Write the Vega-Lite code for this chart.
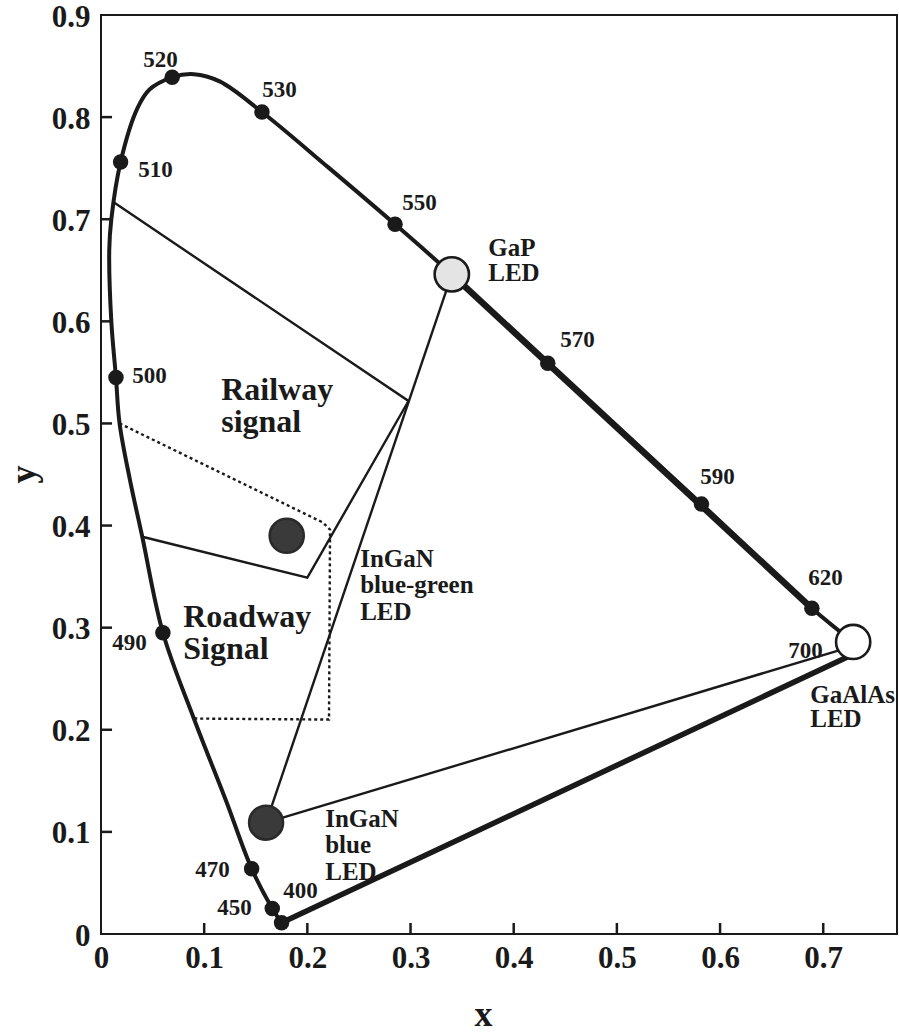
{
  "$schema": "https://vega.github.io/schema/vega-lite/v6.json",
  "width": 796,
  "height": 919,
  "autosize": "none",
  "padding": {"left": 101, "top": 15, "right": 2, "bottom": 100},
  "background": "white",
  "config": {
    "view": {"stroke": "#1a1a1a", "strokeWidth": 2},
    "font": "Liberation Serif",
    "axis": {
      "domain": false,
      "grid": false,
      "ticks": false,
      "labelFont": "Liberation Serif",
      "labelFontSize": 31,
      "labelFontWeight": "bold",
      "labelColor": "#1a1a1a",
      "labelFlush": false,
      "titleFont": "Liberation Serif",
      "titleFontSize": 36,
      "titleFontWeight": "bold",
      "titleColor": "#1a1a1a"
    }
  },
  "datasets": {
    "locus": [
      {"i": 1, "x": 0.175, "y": 0.011},
      {"i": 2, "x": 0.166, "y": 0.025},
      {"i": 3, "x": 0.146, "y": 0.064},
      {"i": 4, "x": 0.121, "y": 0.131},
      {"i": 5, "x": 0.090, "y": 0.211},
      {"i": 6, "x": 0.060, "y": 0.295},
      {"i": 7, "x": 0.040, "y": 0.389},
      {"i": 8, "x": 0.028, "y": 0.445},
      {"i": 9, "x": 0.018, "y": 0.500},
      {"i": 10, "x": 0.0145, "y": 0.545},
      {"i": 11, "x": 0.010, "y": 0.600},
      {"i": 12, "x": 0.008, "y": 0.670},
      {"i": 13, "x": 0.010, "y": 0.700},
      {"i": 14, "x": 0.019, "y": 0.756},
      {"i": 15, "x": 0.035, "y": 0.808},
      {"i": 16, "x": 0.047, "y": 0.827},
      {"i": 17, "x": 0.069, "y": 0.839},
      {"i": 18, "x": 0.090, "y": 0.842},
      {"i": 19, "x": 0.115, "y": 0.835},
      {"i": 20, "x": 0.156, "y": 0.805},
      {"i": 21, "x": 0.220, "y": 0.751},
      {"i": 22, "x": 0.285, "y": 0.695},
      {"i": 23, "x": 0.340, "y": 0.646},
      {"i": 24, "x": 0.433, "y": 0.559},
      {"i": 25, "x": 0.582, "y": 0.421},
      {"i": 26, "x": 0.689, "y": 0.319},
      {"i": 27, "x": 0.729, "y": 0.286}
    ],
    "ticks": [
      {"seg": "x0.1", "i": 1, "x": 0.1, "y": 0}, {"seg": "x0.1", "i": 2, "x": 0.1, "y": 0.0108},
      {"seg": "x0.2", "i": 1, "x": 0.2, "y": 0}, {"seg": "x0.2", "i": 2, "x": 0.2, "y": 0.0108},
      {"seg": "x0.3", "i": 1, "x": 0.3, "y": 0}, {"seg": "x0.3", "i": 2, "x": 0.3, "y": 0.0108},
      {"seg": "x0.4", "i": 1, "x": 0.4, "y": 0}, {"seg": "x0.4", "i": 2, "x": 0.4, "y": 0.0108},
      {"seg": "x0.5", "i": 1, "x": 0.5, "y": 0}, {"seg": "x0.5", "i": 2, "x": 0.5, "y": 0.0108},
      {"seg": "x0.6", "i": 1, "x": 0.6, "y": 0}, {"seg": "x0.6", "i": 2, "x": 0.6, "y": 0.0108},
      {"seg": "x0.7", "i": 1, "x": 0.7, "y": 0}, {"seg": "x0.7", "i": 2, "x": 0.7, "y": 0.0108},
      {"seg": "y0.1", "i": 1, "x": 0, "y": 0.1}, {"seg": "y0.1", "i": 2, "x": 0.0107, "y": 0.1},
      {"seg": "y0.2", "i": 1, "x": 0, "y": 0.2}, {"seg": "y0.2", "i": 2, "x": 0.0107, "y": 0.2},
      {"seg": "y0.3", "i": 1, "x": 0, "y": 0.3}, {"seg": "y0.3", "i": 2, "x": 0.0107, "y": 0.3},
      {"seg": "y0.4", "i": 1, "x": 0, "y": 0.4}, {"seg": "y0.4", "i": 2, "x": 0.0107, "y": 0.4},
      {"seg": "y0.5", "i": 1, "x": 0, "y": 0.5}, {"seg": "y0.5", "i": 2, "x": 0.0107, "y": 0.5},
      {"seg": "y0.6", "i": 1, "x": 0, "y": 0.6}, {"seg": "y0.6", "i": 2, "x": 0.0107, "y": 0.6},
      {"seg": "y0.7", "i": 1, "x": 0, "y": 0.7}, {"seg": "y0.7", "i": 2, "x": 0.0107, "y": 0.7},
      {"seg": "y0.8", "i": 1, "x": 0, "y": 0.8}, {"seg": "y0.8", "i": 2, "x": 0.0107, "y": 0.8}
    ],
    "purple": [
      {"i": 1, "x": 0.175, "y": 0.011},
      {"i": 2, "x": 0.725, "y": 0.272}
    ],
    "edge": [
      {"i": 1, "x": 0.340, "y": 0.646},
      {"i": 2, "x": 0.689, "y": 0.319}
    ],
    "thin": [
      {"seg": "railway", "i": 1, "x": 0.0116, "y": 0.717},
      {"seg": "railway", "i": 2, "x": 0.298, "y": 0.522},
      {"seg": "railway", "i": 3, "x": 0.200, "y": 0.349},
      {"seg": "railway", "i": 4, "x": 0.040, "y": 0.389},
      {"seg": "blue-GaP", "i": 1, "x": 0.160, "y": 0.109},
      {"seg": "blue-GaP", "i": 2, "x": 0.340, "y": 0.646},
      {"seg": "blue-GaAlAs", "i": 1, "x": 0.160, "y": 0.109},
      {"seg": "blue-GaAlAs", "i": 2, "x": 0.729, "y": 0.282}
    ],
    "roadway": [
      {"i": 1, "x": 0.018, "y": 0.500},
      {"i": 2, "x": 0.215, "y": 0.403},
      {"i": 3, "x": 0.222, "y": 0.396},
      {"i": 4, "x": 0.221, "y": 0.210},
      {"i": 5, "x": 0.090, "y": 0.211}
    ],
    "dots": [
      {"nm": 520, "x": 0.069, "y": 0.839},
      {"nm": 530, "x": 0.156, "y": 0.805},
      {"nm": 510, "x": 0.019, "y": 0.756},
      {"nm": 550, "x": 0.285, "y": 0.695},
      {"nm": 570, "x": 0.433, "y": 0.559},
      {"nm": 590, "x": 0.582, "y": 0.421},
      {"nm": 620, "x": 0.689, "y": 0.319},
      {"nm": 500, "x": 0.0145, "y": 0.545},
      {"nm": 490, "x": 0.060, "y": 0.295},
      {"nm": 470, "x": 0.146, "y": 0.064},
      {"nm": 450, "x": 0.166, "y": 0.025},
      {"nm": 400, "x": 0.175, "y": 0.011}
    ],
    "leds": [
      {"led": "GaP", "x": 0.340, "y": 0.646},
      {"led": "GaAlAs", "x": 0.729, "y": 0.286},
      {"led": "InGaN blue-green", "x": 0.180, "y": 0.390},
      {"led": "InGaN blue", "x": 0.160, "y": 0.109}
    ],
    "nmlabels": [
      {"t": "520", "x": 0.0409, "y": 0.8487},
      {"t": "530", "x": 0.1562, "y": 0.8193},
      {"t": "510", "x": 0.0361, "y": 0.7409},
      {"t": "550", "x": 0.2920, "y": 0.7095},
      {"t": "570", "x": 0.4451, "y": 0.5753},
      {"t": "590", "x": 0.5808, "y": 0.4410},
      {"t": "620", "x": 0.6855, "y": 0.3420},
      {"t": "700", "x": 0.6661, "y": 0.2705},
      {"t": "500", "x": 0.0302, "y": 0.5400},
      {"t": "490", "x": 0.0109, "y": 0.2783},
      {"t": "470", "x": 0.0913, "y": 0.0559},
      {"t": "450", "x": 0.1126, "y": 0.0186},
      {"t": "400", "x": 0.1766, "y": 0.0353}
    ],
    "regionlabels": [
      {"t": "Railway\nsignal", "x": 0.1165, "y": 0.5233},
      {"t": "Roadway\nSignal", "x": 0.0797, "y": 0.3009}
    ],
    "ledlabels": [
      {"t": "GaP\nLED", "x": 0.3753, "y": 0.6635},
      {"t": "GaAlAs\nLED", "x": 0.6874, "y": 0.2264}
    ],
    "inganlabels": [
      {"t": "InGaN\nblue-green\nLED", "x": 0.2512, "y": 0.3597},
      {"t": "InGaN\nblue\nLED", "x": 0.2173, "y": 0.1049}
    ]
  },
  "layer": [
    {
      "data": {"name": "locus"},
      "mark": {"type": "line", "interpolate": "catmull-rom", "stroke": "#1a1a1a", "strokeWidth": 4, "strokeCap": "round", "strokeJoin": "round"},
      "encoding": {
        "x": {"field": "x", "type": "quantitative", "scale": {"domain": [0, 0.7715], "nice": false, "zero": false},
          "axis": {"title": "x", "values": [0, 0.1, 0.2, 0.3, 0.4, 0.5, 0.6, 0.7], "format": ".1~f", "labelPadding": 9, "titleX": 382, "titleY": 91, "titleAlign": "center", "titleBaseline": "alphabetic"}},
        "y": {"field": "y", "type": "quantitative", "scale": {"domain": [0, 0.9], "nice": false, "zero": false},
          "axis": {"title": "y", "values": [0, 0.1, 0.2, 0.3, 0.4, 0.5, 0.6, 0.7, 0.8, 0.9], "format": ".1~f", "labelPadding": 11, "labelOffset": 2, "titleX": -67, "titleY": 459, "titleAngle": 270, "titleAlign": "center", "titleBaseline": "alphabetic"}},
        "order": {"field": "i"}
      }
    },
    {
      "data": {"name": "ticks"},
      "mark": {"type": "line", "stroke": "#1a1a1a", "strokeWidth": 2.5, "strokeCap": "butt"},
      "encoding": {
        "x": {"field": "x", "type": "quantitative"},
        "y": {"field": "y", "type": "quantitative"},
        "detail": {"field": "seg"},
        "order": {"field": "i"}
      }
    },
    {
      "data": {"name": "purple"},
      "mark": {"type": "line", "stroke": "#1a1a1a", "strokeWidth": 5.5, "strokeCap": "round"},
      "encoding": {
        "x": {"field": "x", "type": "quantitative"},
        "y": {"field": "y", "type": "quantitative"},
        "order": {"field": "i"}
      }
    },
    {
      "data": {"name": "edge"},
      "mark": {"type": "line", "stroke": "#1a1a1a", "strokeWidth": 6.5, "strokeCap": "butt"},
      "encoding": {
        "x": {"field": "x", "type": "quantitative"},
        "y": {"field": "y", "type": "quantitative"},
        "order": {"field": "i"}
      }
    },
    {
      "data": {"name": "thin"},
      "mark": {"type": "line", "stroke": "#1a1a1a", "strokeWidth": 2.4, "strokeJoin": "miter"},
      "encoding": {
        "x": {"field": "x", "type": "quantitative"},
        "y": {"field": "y", "type": "quantitative"},
        "detail": {"field": "seg"},
        "order": {"field": "i"}
      }
    },
    {
      "data": {"name": "roadway"},
      "mark": {"type": "line", "stroke": "#1a1a1a", "strokeWidth": 2.4, "strokeDash": [3, 3]},
      "encoding": {
        "x": {"field": "x", "type": "quantitative"},
        "y": {"field": "y", "type": "quantitative"},
        "order": {"field": "i"}
      }
    },
    {
      "data": {"name": "dots"},
      "mark": {"type": "point", "shape": "circle", "filled": true, "fill": "#1a1a1a", "opacity": 1, "size": 240},
      "encoding": {
        "x": {"field": "x", "type": "quantitative"},
        "y": {"field": "y", "type": "quantitative"}
      }
    },
    {
      "data": {"name": "leds"},
      "mark": {"type": "point", "shape": "circle", "filled": true, "opacity": 1, "strokeWidth": 2.6, "strokeOpacity": 1, "fillOpacity": 1},
      "encoding": {
        "x": {"field": "x", "type": "quantitative"},
        "y": {"field": "y", "type": "quantitative"},
        "fill": {"field": "led", "type": "nominal", "legend": null,
          "scale": {"domain": ["GaP", "GaAlAs", "InGaN blue-green", "InGaN blue"], "range": ["#e4e4e4", "#ffffff", "#3a3a3a", "#3a3a3a"]}},
        "stroke": {"field": "led", "type": "nominal", "legend": null,
          "scale": {"domain": ["GaP", "GaAlAs", "InGaN blue-green", "InGaN blue"], "range": ["#1a1a1a", "#1a1a1a", "#2a2a2a", "#2a2a2a"]}},
        "size": {"field": "led", "type": "nominal", "legend": null,
          "scale": {"domain": ["GaP", "GaAlAs", "InGaN blue-green", "InGaN blue"], "range": [1180, 1150, 1520, 1400]}}
      }
    },
    {
      "data": {"name": "nmlabels"},
      "mark": {"type": "text", "align": "left", "baseline": "alphabetic", "font": "Liberation Serif", "fontWeight": "bold", "fontSize": 23, "fill": "#1a1a1a"},
      "encoding": {
        "x": {"field": "x", "type": "quantitative"},
        "y": {"field": "y", "type": "quantitative"},
        "text": {"field": "t"}
      }
    },
    {
      "data": {"name": "regionlabels"},
      "mark": {"type": "text", "align": "left", "baseline": "alphabetic", "font": "Liberation Serif", "fontWeight": "bold", "fontSize": 32, "lineHeight": 32.5, "lineBreak": "\n", "fill": "#1a1a1a"},
      "encoding": {
        "x": {"field": "x", "type": "quantitative"},
        "y": {"field": "y", "type": "quantitative"},
        "text": {"field": "t"}
      }
    },
    {
      "data": {"name": "ledlabels"},
      "mark": {"type": "text", "align": "left", "baseline": "alphabetic", "font": "Liberation Serif", "fontWeight": "bold", "fontSize": 25, "lineHeight": 24.5, "lineBreak": "\n", "fill": "#1a1a1a"},
      "encoding": {
        "x": {"field": "x", "type": "quantitative"},
        "y": {"field": "y", "type": "quantitative"},
        "text": {"field": "t"}
      }
    },
    {
      "data": {"name": "inganlabels"},
      "mark": {"type": "text", "align": "left", "baseline": "alphabetic", "font": "Liberation Serif", "fontWeight": "bold", "fontSize": 25, "lineHeight": 26.5, "lineBreak": "\n", "fill": "#1a1a1a"},
      "encoding": {
        "x": {"field": "x", "type": "quantitative"},
        "y": {"field": "y", "type": "quantitative"},
        "text": {"field": "t"}
      }
    }
  ]
}
